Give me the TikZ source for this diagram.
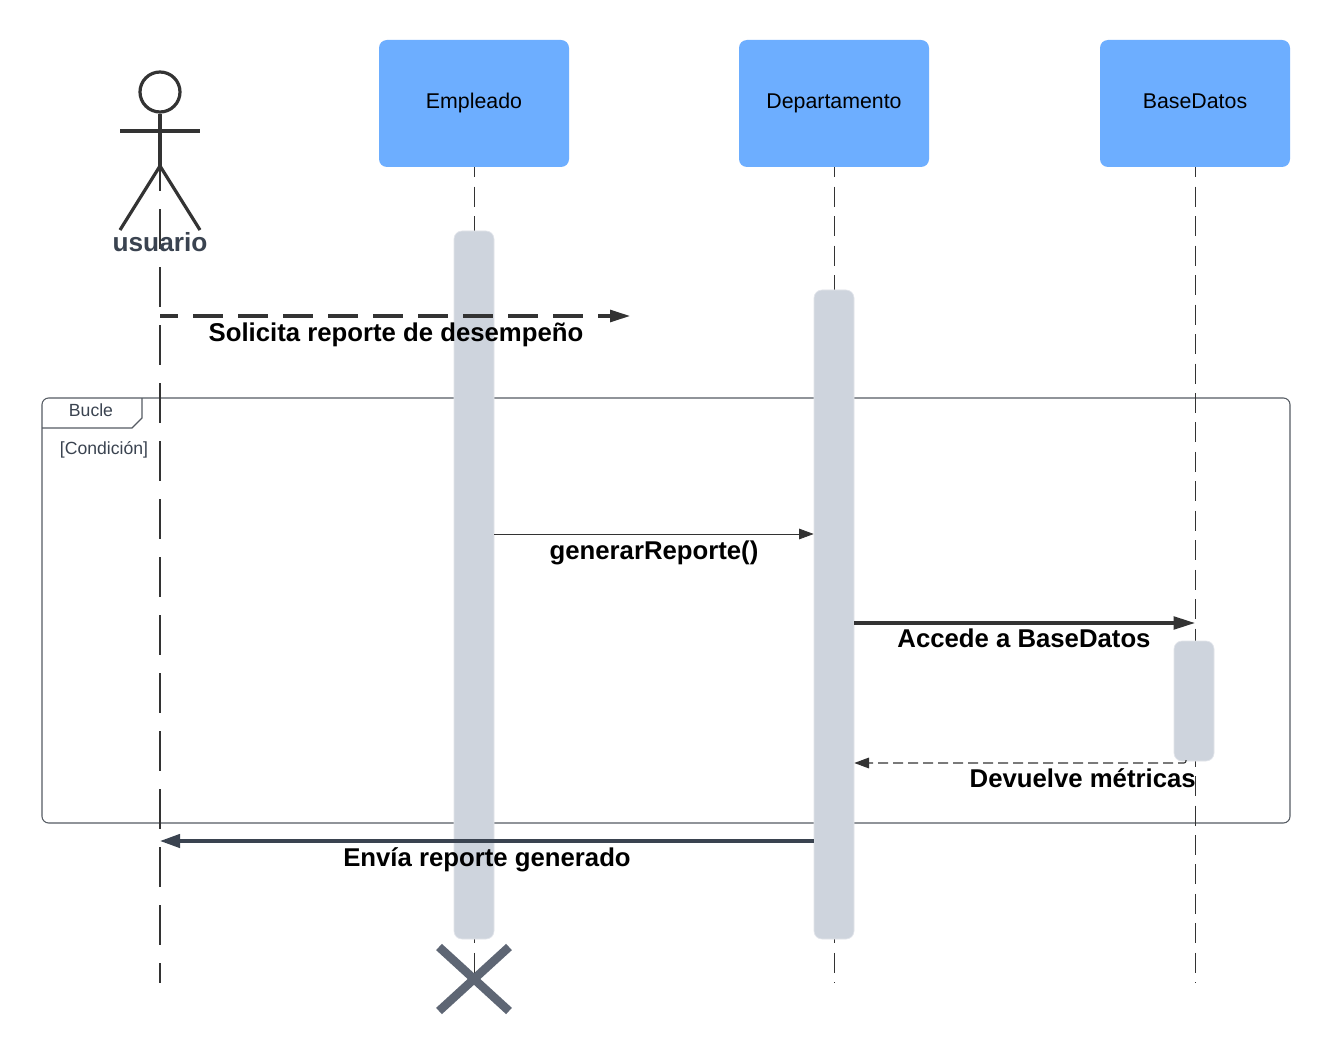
\documentclass[tikz,border=0pt]{standalone}
\usepackage{fontspec}
\setmainfont{Liberation Sans}
\usetikzlibrary{arrows.meta,calc}

\definecolor{cajaAzul}{HTML}{6DAEFF}
\definecolor{barraGris}{HTML}{CED4DD}
\definecolor{trazo}{HTML}{333333}
\definecolor{pizarra}{HTML}{3A4350}
\definecolor{cruzGris}{HTML}{5E6674}
\definecolor{marco}{HTML}{555B63}

\tikzset{
  cabecera/.style={fill=cajaAzul, rounded corners=6pt, minimum width=142.5pt, minimum height=95.25pt, font=\fontsize{16}{19}\selectfont, text=black, inner sep=0pt, text height=11pt, text depth=4pt},
  activacion/.style={fill=barraGris, draw=barraGris!60, line width=.5pt, rounded corners=6pt, minimum width=30pt, inner sep=0pt},
  mensaje/.style={font=\fontsize{19.3}{23}\selectfont\bfseries, text=black, inner sep=0pt},
  vida/.style={line width=.75pt, draw=trazo, dash pattern=on 15pt off 7.1pt, dash phase=7.5pt},
  marcotexto/.style={font=\fontsize{13.2}{16}\selectfont, text=pizarra, inner sep=0pt},
}

\begin{document}
\begin{tikzpicture}[x=.75pt, y=-.75pt]

    \useasboundingbox (0,0) rectangle (1331,1059);
    \fill[white] (0,0) rectangle (1331,1059);

    % Loop frame
    \draw[marco, line width=.8pt, rounded corners=5pt] (42,398) rectangle (1290,823);
    \draw[marco, line width=.8pt] (42,428) -- (132,428) -- (142,418) -- (142,398);
    \node[marcotexto] (bucle) at (91,410.5) {Bucle};
    \node[marcotexto] (condicion) at (104,450) {[Condición]};

    % Heads and lifelines
    \foreach \nombre/\texto/\x in {empleado/Empleado/474, departamento/Departamento/834, basedatos/BaseDatos/1195}{
        \node[cabecera] (\nombre) at (\x,103.5) {\texto};
        \coordinate (\nombre Fin) at (\x,983);
        \draw[vida] (\nombre.south) -- (\nombre Fin);
    }

    % Actor
    \node[circle, draw=trazo, line width=2.4pt, minimum size=30pt, inner sep=0pt] (cabeza) at (160,92) {};
    \coordinate (cadera) at (160,166);
    \coordinate (hombroIzq) at (120,131);
    \coordinate (hombroDer) at (200,131);
    \coordinate (pieIzq) at (120,230);
    \coordinate (pieDer) at (200,230);
    \coordinate (usuarioFin) at (160,983);
    \draw[trazo, line width=2.4pt] (cabeza.south) -- (cadera);
    \draw[trazo, line width=2.4pt] (hombroIzq) -- (hombroDer);
    \draw[trazo, line width=2.4pt] (pieIzq) -- (cadera) -- (pieDer);
    \draw[trazo, line width=1.7pt, dash pattern=on 30pt off 13.5pt, dash phase=11pt] (cadera) -- (usuarioFin);
    \node[font=\fontsize{19.7}{23}\selectfont\bfseries, text=pizarra, inner sep=0pt] (usuario) at (160,242) {usuario};

    % Activation bars
    \node[activacion, minimum height=531pt] (barraEmpleado) at (474,585) {};
    \node[activacion, minimum height=486.75pt] (barraDepartamento) at (834,614.5) {};
    \node[activacion, minimum height=90pt] (barraBase) at (1194,701) {};

    % Destruction mark
    \coordinate (cruz) at (474,979);
    \draw[cruzGris, line width=6.4pt] ($(cruz)+(-35,-32)$) -- ($(cruz)+(35,32)$);
    \draw[cruzGris, line width=6.4pt] ($(cruz)+(-35,32)$) -- ($(cruz)+(35,-32)$);

    % Messages
    \coordinate (usuarioA) at (160,316);
    \coordinate (solicitaFin) at (630,316);
    \draw[trazo, line width=2.3pt, dash pattern=on 22.5pt off 11.25pt, dash phase=9pt, -{Triangle[length=15pt, width=9pt]}] (usuarioA) -- (solicitaFin);
    \node[mensaje] (solicita) at (396,335) {Solicita reporte de desempeño};

    \draw[trazo, line width=.6pt, -{Triangle[length=11pt, width=8pt]}] (barraEmpleado.east |- 0,534) -- (barraDepartamento.west |- 0,534);
    \node[mensaje] (generar) at (654,553) {generarReporte()};

    \draw[trazo, line width=2.3pt, -{Triangle[length=16pt, width=9.5pt]}] (barraDepartamento.east |- 0,623) -- (basedatos.south |- 0,623);
    \node[mensaje] (accede) at (1024,638.5) {Accede a BaseDatos};

    \coordinate (devuelveIni) at (1186,760);
    \draw[trazo, line width=.8pt, dash pattern=on 7.5pt off 3.75pt, rounded corners=1.5pt, -{Triangle[length=11pt, width=8pt]}] (devuelveIni) |- (barraDepartamento.east |- 0,763);
    \node[mensaje, anchor=east] (devuelve) at (1196,778.5) {Devuelve métricas};

    \coordinate (usuarioB) at (160,841);
    \draw[pizarra, line width=2.5pt, -{Triangle[length=15pt, width=10pt]}] (barraDepartamento.west |- 0,841) -- (usuarioB);
    \node[mensaje] (envia) at (487,860) {Envía reporte generado};

\end{tikzpicture}
\end{document}
